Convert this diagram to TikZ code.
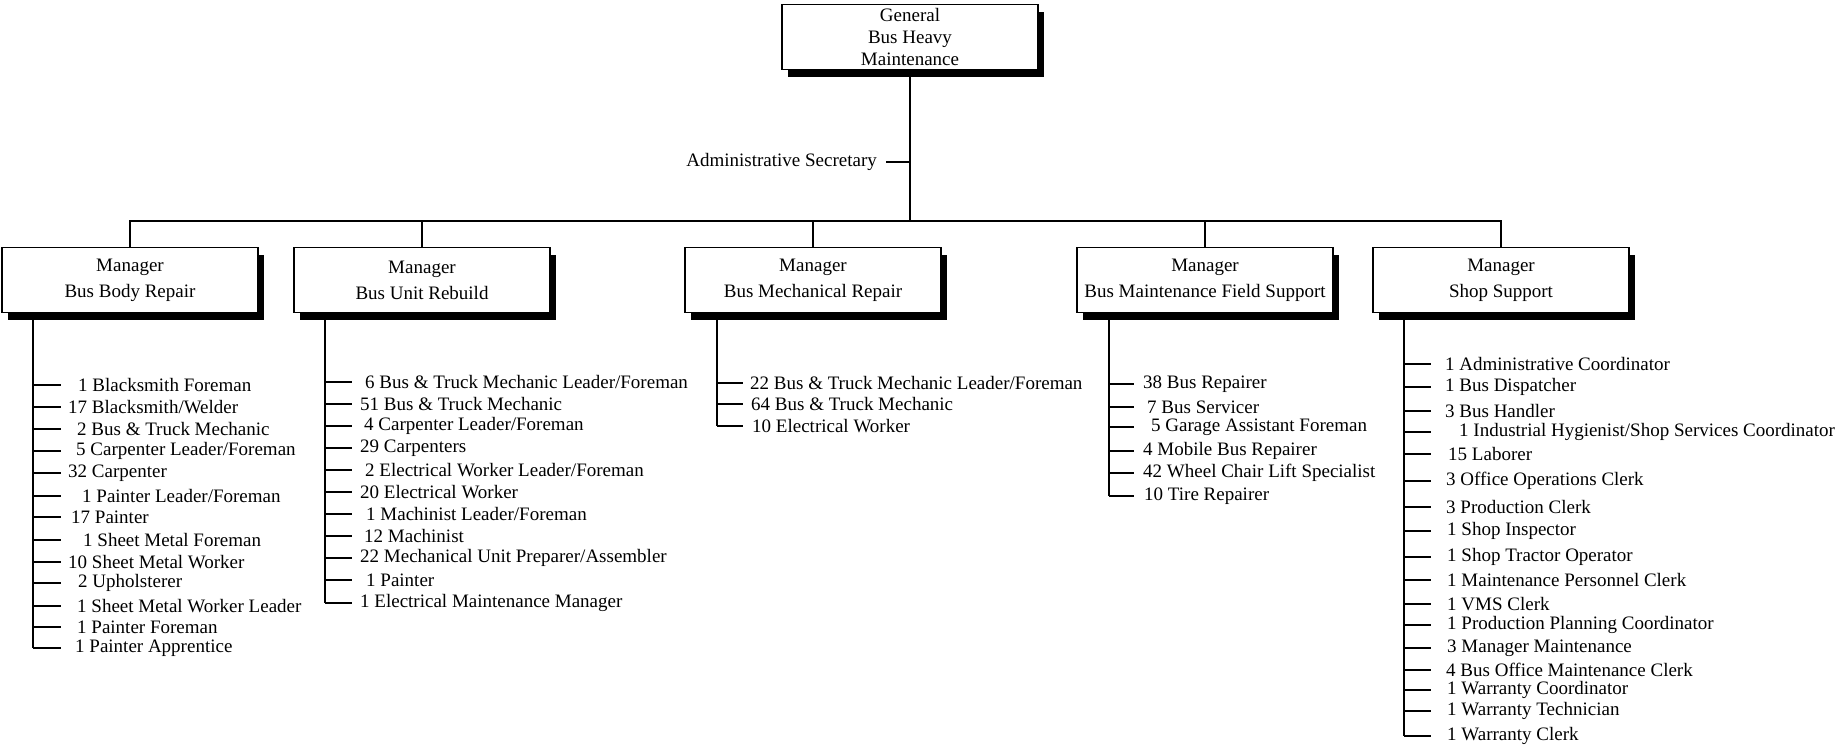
\documentclass[tikz,border=0pt]{standalone}
\usepackage{fontspec}
\setmainfont{Liberation Serif}
\usetikzlibrary{shadows}

\begin{document}
\begin{tikzpicture}[x=1pt, y=-1pt,
  orgbox/.style={draw, line width=1.4pt, fill=white, minimum width=256pt, minimum height=65pt, align=center, inner sep=0pt,
    font=\fontsize{19}{26}\selectfont, drop shadow={shadow xshift=6pt, shadow yshift=-7pt, fill=black, opacity=1}},
  item/.style={anchor=west, inner sep=0pt, font=\fontsize{19}{22}\selectfont},
  link/.style={line width=2.4pt}]
\useasboundingbox (0,0) rectangle (1839,747);

\node[orgbox, font=\fontsize{19}{22}\selectfont] (gm) at (910,37){General\\Bus Heavy\\Maintenance};
\coordinate (hub) at (910,221);
\draw[link](gm) -- (hub);
\node[item, anchor=east] (sec) at (877,162){Administrative Secretary};
\draw[link]([xshift=9pt]sec.east) -- (sec.east -| gm.south);

\node[orgbox] (mbody) at (130,280){Manager\\Bus Body Repair};
\node[orgbox] (munit) at (422,280){Manager\\Bus Unit Rebuild};
\node[orgbox] (mmech) at (813,280){Manager\\Bus Mechanical Repair};
\node[orgbox] (mfield) at (1205,280){Manager\\Bus Maintenance Field Support};
\node[orgbox] (mshop) at (1501,280){Manager\\Shop Support};
\draw[link](mbody.north) -- (mbody.north |- hub) -- (mshop.north |- hub) -- (mshop.north);
\draw[link](munit.north) -- (munit.north |- hub);
\draw[link](mmech.north) -- (mmech.north |- hub);
\draw[link](mfield.north) -- (mfield.north |- hub);

% Bus Body Repair
\coordinate (bodyend) at (33,648);
\draw[link](mbody.south -| bodyend) -- (bodyend);
\node[item] (b1) at (78,385){1 Blacksmith Foreman};
\node[item] (b2) at (68,407){17 Blacksmith/Welder};
\node[item] (b3) at (77,429){2 Bus \& Truck Mechanic};
\node[item] (b4) at (76,451){5 Carpenter Leader/Foreman};
\node[item] (b5) at (68,473){32 Carpenter};
\node[item] (b6) at (82,496){1 Painter Leader/Foreman};
\node[item] (b7) at (71,517){17 Painter};
\node[item] (b8) at (83,540){1 Sheet Metal Foreman};
\node[item] (b9) at (68,562){10 Sheet Metal Worker};
\node[item] (b10) at (78,583){2 Upholsterer};
\node[item] (b11) at (77,606){1 Sheet Metal Worker Leader};
\node[item] (b12) at (77,627){1 Painter Foreman};
\node[item] (b13) at (75,648){1 Painter Apprentice};
\draw[link](bodyend |- b1.west) -- ++(28,0);
\draw[link](bodyend |- b2.west) -- ++(28,0);
\draw[link](bodyend |- b3.west) -- ++(28,0);
\draw[link](bodyend |- b4.west) -- ++(28,0);
\draw[link](bodyend |- b5.west) -- ++(28,0);
\draw[link](bodyend |- b6.west) -- ++(28,0);
\draw[link](bodyend |- b7.west) -- ++(28,0);
\draw[link](bodyend |- b8.west) -- ++(28,0);
\draw[link](bodyend |- b9.west) -- ++(28,0);
\draw[link](bodyend |- b10.west) -- ++(28,0);
\draw[link](bodyend |- b11.west) -- ++(28,0);
\draw[link](bodyend |- b12.west) -- ++(28,0);
\draw[link](bodyend |- b13.west) -- ++(28,0);

% Bus Unit Rebuild
\coordinate (unitend) at (325,603);
\draw[link](munit.south -| unitend) -- (unitend);
\node[item] (u1) at (365,382){6 Bus \& Truck Mechanic Leader/Foreman};
\node[item] (u2) at (360,404){51 Bus \& Truck Mechanic};
\node[item] (u3) at (364,426){4 Carpenter Leader/Foreman};
\node[item] (u4) at (360,448){29 Carpenters};
\node[item] (u5) at (365,470){2 Electrical Worker Leader/Foreman};
\node[item] (u6) at (360,492){20 Electrical Worker};
\node[item] (u7) at (366,514){1 Machinist Leader/Foreman};
\node[item] (u8) at (364,536){12 Machinist};
\node[item] (u9) at (360,558){22 Mechanical Unit Preparer/Assembler};
\node[item] (u10) at (366,580){1 Painter};
\node[item] (u11) at (360,603){1 Electrical Maintenance Manager};
\draw[link](unitend |- u1.west) -- ++(27,0);
\draw[link](unitend |- u2.west) -- ++(27,0);
\draw[link](unitend |- u3.west) -- ++(27,0);
\draw[link](unitend |- u4.west) -- ++(27,0);
\draw[link](unitend |- u5.west) -- ++(27,0);
\draw[link](unitend |- u6.west) -- ++(27,0);
\draw[link](unitend |- u7.west) -- ++(27,0);
\draw[link](unitend |- u8.west) -- ++(27,0);
\draw[link](unitend |- u9.west) -- ++(27,0);
\draw[link](unitend |- u10.west) -- ++(27,0);
\draw[link](unitend |- u11.west) -- ++(27,0);

% Bus Mechanical Repair
\coordinate (mechend) at (717,426);
\draw[link](mmech.south -| mechend) -- (mechend);
\node[item] (m1) at (750,383){22 Bus \& Truck Mechanic Leader/Foreman};
\node[item] (m2) at (751,404){64 Bus \& Truck Mechanic};
\node[item] (m3) at (752,426){10 Electrical Worker};
\draw[link](mechend |- m1.west) -- ++(26,0);
\draw[link](mechend |- m2.west) -- ++(26,0);
\draw[link](mechend |- m3.west) -- ++(26,0);

% Bus Maintenance Field Support
\coordinate (fieldend) at (1109,496);
\draw[link](mfield.south -| fieldend) -- (fieldend);
\node[item] (f1) at (1143,384){38 Bus Repairer};
\node[item] (f2) at (1147,407){7 Bus Servicer};
\node[item] (f3) at (1151,427){5 Garage Assistant Foreman};
\node[item] (f4) at (1143,451){4 Mobile Bus Repairer};
\node[item] (f5) at (1143,473){42 Wheel Chair Lift Specialist};
\node[item] (f6) at (1144,496){10 Tire Repairer};
\draw[link](fieldend |- f1.west) -- ++(25,0);
\draw[link](fieldend |- f2.west) -- ++(25,0);
\draw[link](fieldend |- f3.west) -- ++(25,0);
\draw[link](fieldend |- f4.west) -- ++(25,0);
\draw[link](fieldend |- f5.west) -- ++(25,0);
\draw[link](fieldend |- f6.west) -- ++(25,0);

% Shop Support
\coordinate (shopend) at (1404,736);
\draw[link](mshop.south -| shopend) -- (shopend);
\node[item] (s1) at (1445,364){1 Administrative Coordinator};
\node[item] (s2) at (1445,387){1 Bus Dispatcher};
\node[item] (s3) at (1445,411){3 Bus Handler};
\node[item] (s4) at (1459,432){1 Industrial Hygienist/Shop Services Coordinator};
\node[item] (s5) at (1448,454){15 Laborer};
\node[item] (s6) at (1446,481){3 Office Operations Clerk};
\node[item] (s7) at (1446,507){3 Production Clerk};
\node[item] (s8) at (1447,531){1 Shop Inspector};
\node[item] (s9) at (1447,557){1 Shop Tractor Operator};
\node[item] (s10) at (1447,580){1 Maintenance Personnel Clerk};
\node[item] (s11) at (1447,604){1 VMS Clerk};
\node[item] (s12) at (1447,625){1 Production Planning Coordinator};
\node[item] (s13) at (1447,648){3 Manager Maintenance};
\node[item] (s14) at (1446,670){4 Bus Office Maintenance Clerk};
\node[item] (s15) at (1447,690){1 Warranty Coordinator};
\node[item] (s16) at (1447,711){1 Warranty Technician};
\node[item] (s17) at (1447,736){1 Warranty Clerk};
\draw[link](shopend |- s1.west) -- ++(27,0);
\draw[link](shopend |- s2.west) -- ++(27,0);
\draw[link](shopend |- s3.west) -- ++(27,0);
\draw[link](shopend |- s4.west) -- ++(27,0);
\draw[link](shopend |- s5.west) -- ++(27,0);
\draw[link](shopend |- s6.west) -- ++(27,0);
\draw[link](shopend |- s7.west) -- ++(27,0);
\draw[link](shopend |- s8.west) -- ++(27,0);
\draw[link](shopend |- s9.west) -- ++(27,0);
\draw[link](shopend |- s10.west) -- ++(27,0);
\draw[link](shopend |- s11.west) -- ++(27,0);
\draw[link](shopend |- s12.west) -- ++(27,0);
\draw[link](shopend |- s13.west) -- ++(27,0);
\draw[link](shopend |- s14.west) -- ++(27,0);
\draw[link](shopend |- s15.west) -- ++(27,0);
\draw[link](shopend |- s16.west) -- ++(27,0);
\draw[link](shopend |- s17.west) -- ++(27,0);

\end{tikzpicture}
\end{document}
